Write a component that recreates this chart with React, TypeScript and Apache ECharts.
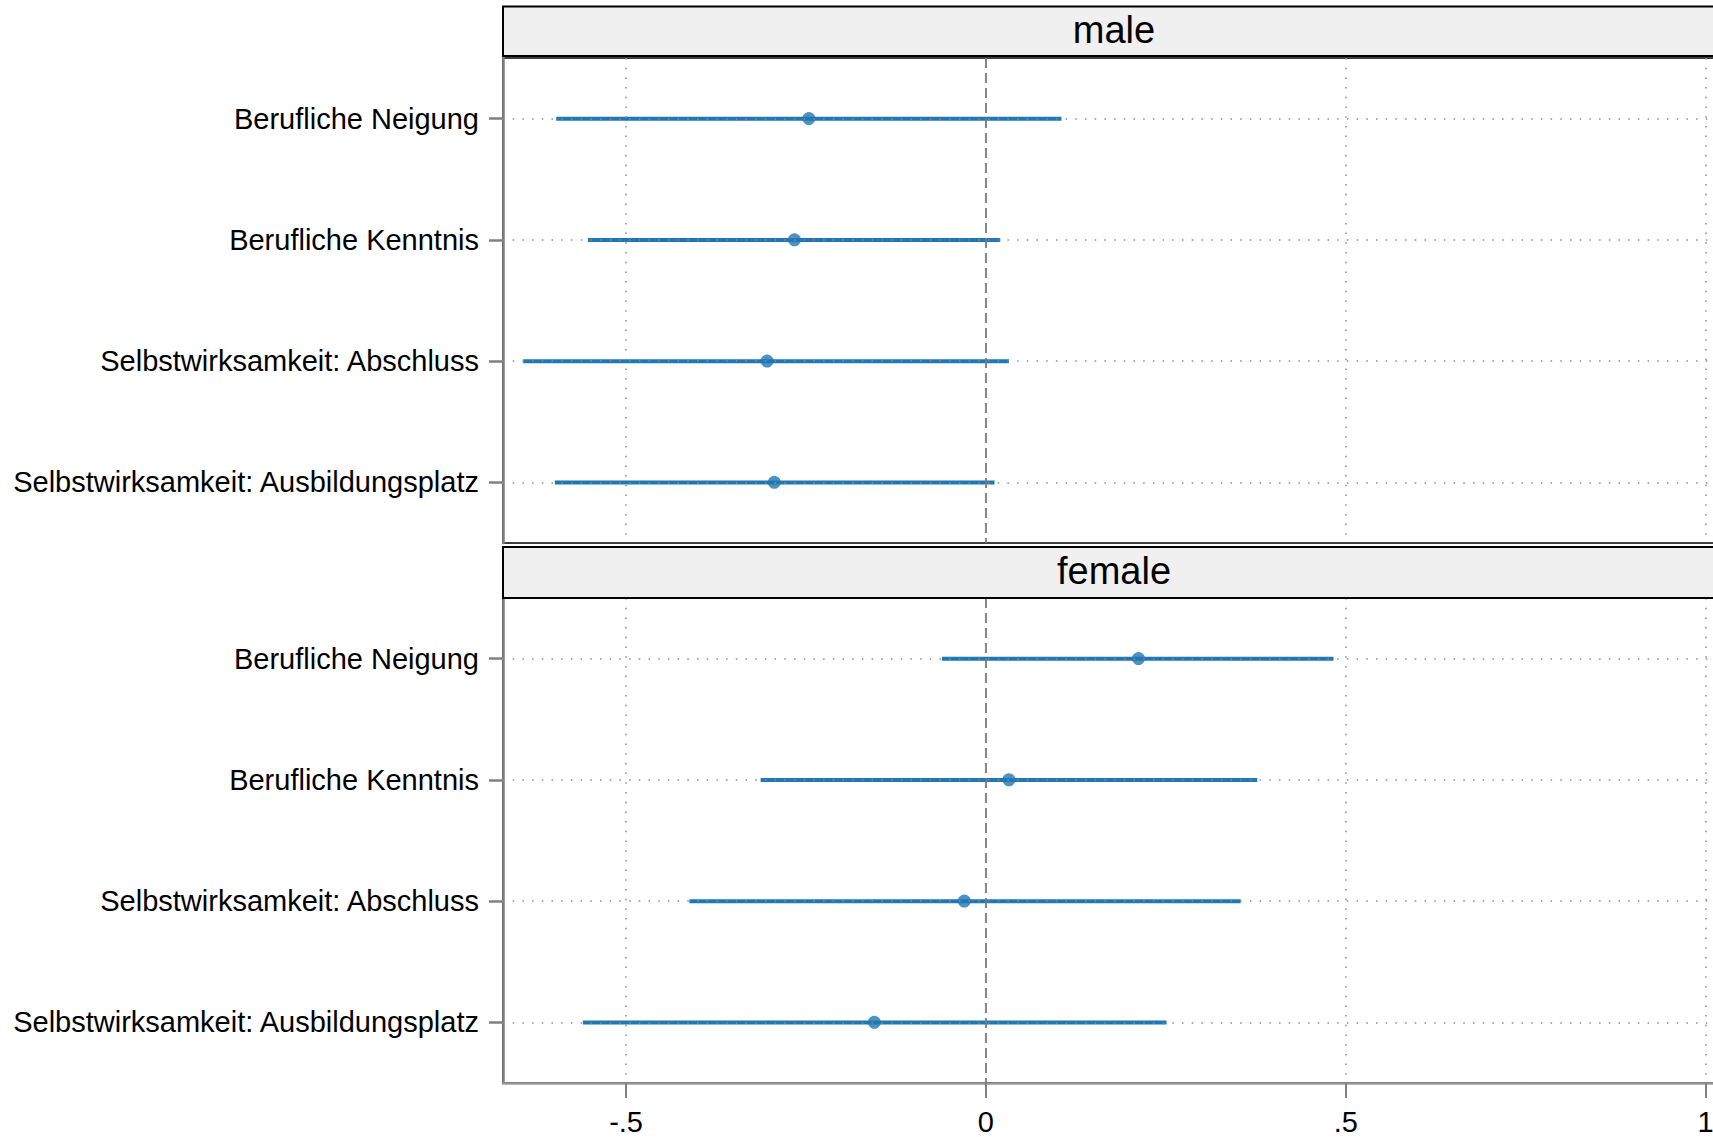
import React, { useEffect, useRef } from "react";
import * as echarts from "echarts";

const categories = [
  "Berufliche Neigung",
  "Berufliche Kenntnis",
  "Selbstwirksamkeit: Abschluss",
  "Selbstwirksamkeit: Ausbildungsplatz",
];
const panels = ["male", "female"];

const maleEst = [-0.246, -0.266, -0.304, -0.294];
const maleLo = [-0.597, -0.553, -0.643, -0.599];
const maleHi = [0.105, 0.02, 0.032, 0.012];

const femaleEst = [0.212, 0.032, -0.03, -0.155];
const femaleLo = [-0.061, -0.313, -0.412, -0.56];
const femaleHi = [0.483, 0.377, 0.354, 0.251];

const xTicks = [-0.5, 0, 0.5, 1];
const xGridDotted = [-0.5, 0.5, 1];
const refLine = 0;
const X_MIN = -0.671;
const X_MAX = 1.027;

const FONT = "'Liberation Sans', Arial, Helvetica, sans-serif";
const BLUE = "#1f77b4";

const fmtTick = (v: number) => {
  if (v === 0) return "0";
  return String(v).replace("0.", ".");
};

export default function App() {
  const ref = useRef<HTMLDivElement>(null);
  useEffect(() => {
    if (!ref.current) return;
    const chart = echarts.init(ref.current, null, { renderer: "svg" });
    const gridDefs = [
      { top: 58, height: 485 },
      { top: 598, height: 485 },
    ];
    const estSets = [maleEst, femaleEst];
    const loSets = [maleLo, femaleLo];
    const hiSets = [maleHi, femaleHi];

    const series: any[] = [];
    panels.forEach((p, gi) => {
      series.push({
        type: "line",
        name: p + "-grid",
        xAxisIndex: gi,
        yAxisIndex: gi,
        data: [],
        z: 1,
        silent: true,
        markLine: {
          silent: true,
          symbol: "none",
          animation: false,
          label: { show: false },
          lineStyle: { color: "#8c8c8c", width: 1.5, type: [1.5, 8.2] },
          data: [
            ...xGridDotted.map((v) => ({ xAxis: v })),
            ...categories.map((c) => ({ yAxis: c })),
          ],
        },
      });
      series.push({
        type: "line",
        name: p + "-ref",
        xAxisIndex: gi,
        yAxisIndex: gi,
        data: [],
        z: 1,
        silent: true,
        markLine: {
          silent: true,
          symbol: "none",
          animation: false,
          label: { show: false },
          lineStyle: { color: "#7a7a7a", width: 1.8, type: [10, 5] },
          data: [{ xAxis: refLine }],
        },
      });
      series.push({
        type: "custom",
        name: p + "-ci",
        xAxisIndex: gi,
        yAxisIndex: gi,
        z: 2,
        encode: { x: [0, 1], y: 2 },
        data: categories.map((c, i) => [loSets[gi][i], hiSets[gi][i], i]),
        renderItem: (params: any, api: any) => {
          const a = api.coord([api.value(0), api.value(2)]);
          const b = api.coord([api.value(1), api.value(2)]);
          return {
            type: "line",
            shape: { x1: a[0], y1: a[1], x2: b[0], y2: b[1] },
            style: { stroke: BLUE, lineWidth: 4 },
          };
        },
      });
      series.push({
        type: "scatter",
        name: p + "-est",
        xAxisIndex: gi,
        yAxisIndex: gi,
        z: 3,
        symbol: "circle",
        symbolSize: 13,
        itemStyle: { color: BLUE },
        data: categories.map((c, i) => [estSets[gi][i], c]),
      });
    });

    const option: any = {
      animation: false,
      backgroundColor: "#ffffff",
      grid: gridDefs.map((g) => ({
        left: 503,
        top: g.top,
        width: 1222,
        height: g.height,
        show: true,
        borderColor: "#000",
        borderWidth: 1.5,
        backgroundColor: "transparent",
      })),
      xAxis: panels.map((p, gi) => ({
        gridIndex: gi,
        type: "value",
        min: X_MIN,
        max: X_MAX,
        axisLine:
          gi === 1
            ? { show: true, onZero: false, lineStyle: { color: "#9a9a9a", width: 2.5 } }
            : { show: false, onZero: false },
        axisTick:
          gi === 1
            ? {
                show: true,
                length: 15,
                customValues: xTicks,
                lineStyle: { color: "#808080", width: 2 },
              }
            : { show: false },
        axisLabel:
          gi === 1
            ? {
                show: true,
                customValues: xTicks,
                formatter: fmtTick,
                fontSize: 29,
                fontFamily: FONT,
                color: "#000",
                margin: 24,
              }
            : { show: false },
        splitLine: { show: false },
      })),
      yAxis: panels.map((p, gi) => ({
        gridIndex: gi,
        type: "category",
        data: categories,
        inverse: true,
        axisLine: {
          show: true,
          onZero: false,
          lineStyle: { color: "#808080", width: 2.5 },
        },
        axisTick: {
          show: true,
          alignWithLabel: true,
          length: 14,
          lineStyle: { color: "#808080", width: 2.5 },
        },
        axisLabel: {
          fontSize: 29,
          fontFamily: FONT,
          color: "#000",
          margin: 24,
        },
        splitLine: { show: false },
      })),
      graphic: [
        {
          type: "rect",
          shape: { x: 503, y: 6.5, width: 1240, height: 49.5 },
          style: { fill: "#f0f0f0", stroke: "#000", lineWidth: 2 },
          z: 10,
        },
        {
          type: "text",
          x: 1114,
          y: 30,
          style: {
            text: panels[0],
            fontSize: 38,
            fontFamily: FONT,
            fill: "#000",
            align: "center",
            verticalAlign: "middle",
          },
          z: 11,
        },
        {
          type: "rect",
          shape: { x: 503, y: 547, width: 1240, height: 51 },
          style: { fill: "#f0f0f0", stroke: "#000", lineWidth: 2 },
          z: 10,
        },
        {
          type: "text",
          x: 1114,
          y: 571,
          style: {
            text: panels[1],
            fontSize: 38,
            fontFamily: FONT,
            fill: "#000",
            align: "center",
            verticalAlign: "middle",
          },
          z: 11,
        },
      ],
      series,
    };
    chart.setOption(option);
    return () => chart.dispose();
  }, []);
  return (
    <div
      ref={ref}
      style={{
        position: "fixed",
        left: 0,
        top: 0,
        width: 1745,
        height: 1137,
        background: "#fff",
      }}
    />
  );
}
